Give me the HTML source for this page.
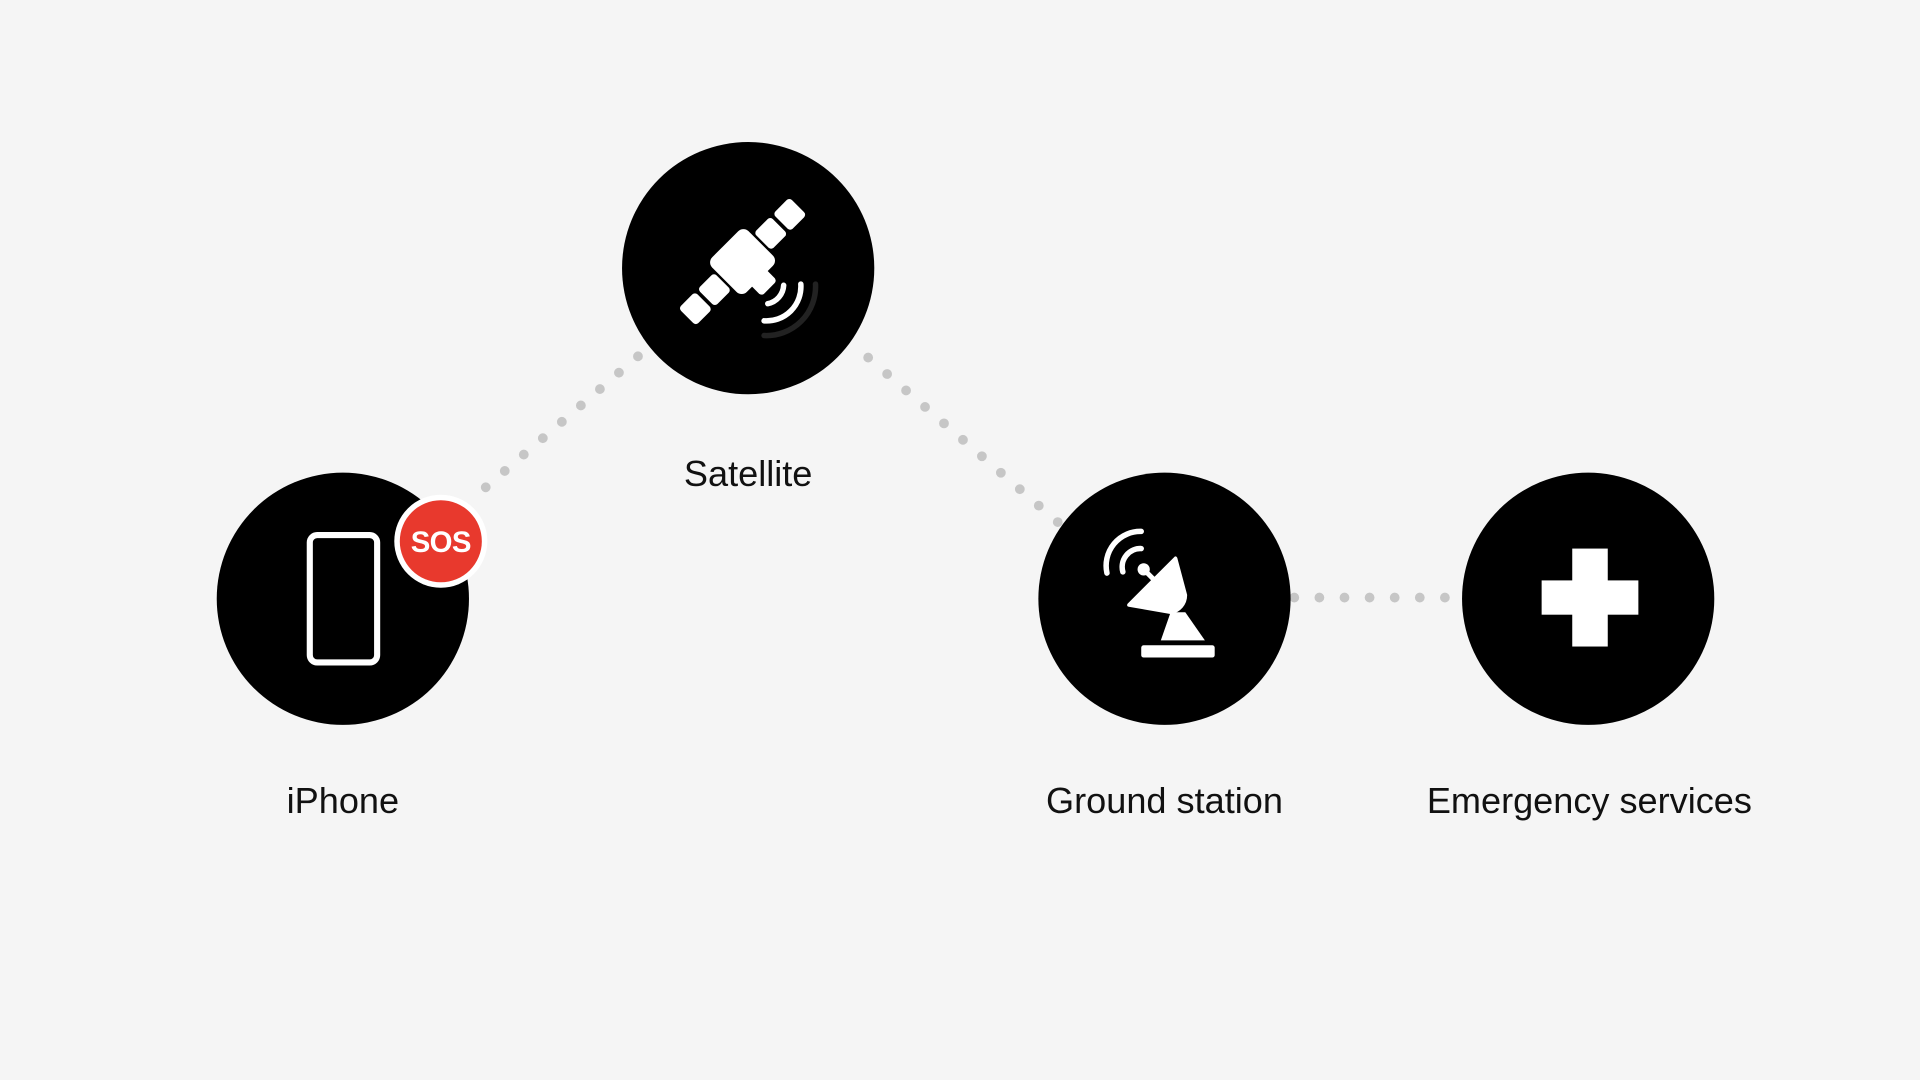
<!DOCTYPE html>
<html><head><meta charset="utf-8"><style>
html,body{margin:0;padding:0;background:#f5f5f5;width:1920px;height:1080px;overflow:hidden}
svg{display:block}
text{font-family:"Liberation Sans",sans-serif}
</style></head><body>
<svg width="1920" height="1080" viewBox="0 0 1568 882" xmlns="http://www.w3.org/2000/svg">
<rect width="1568" height="882" fill="#f5f5f5"/>
<g stroke="#c6c6c6" stroke-width="8" stroke-linecap="round" stroke-dasharray="0 20.5" fill="none">
<line x1="521" y1="291" x2="392" y2="402"/>
<line x1="709" y1="292" x2="868" y2="430"/>
<line x1="1057" y1="488" x2="1185" y2="488"/>
</g>
<circle cx="280" cy="489" r="103" fill="#000"/>
<circle cx="611" cy="219" r="103" fill="#000"/>
<circle cx="951" cy="489" r="103" fill="#000"/>
<circle cx="1297" cy="489" r="103" fill="#000"/>
<rect x="253" y="437" width="55" height="104" rx="6" fill="none" stroke="#fff" stroke-width="5"/>
<circle cx="360" cy="442" r="38" fill="#fff"/>
<circle cx="360" cy="442" r="33.5" fill="#e8392d"/>
<text x="360" y="451" text-anchor="middle" font-size="24" font-weight="bold" fill="#fff" letter-spacing="-0.5">SOS</text>
<g transform="rotate(-45 605 215)" fill="#fff">
<rect x="543" y="205" width="19" height="20" rx="3"/>
<rect x="565" y="205" width="19" height="20" rx="3"/>
<rect x="586" y="195" width="42" height="40" rx="6"/>
<rect x="630" y="205" width="19" height="20" rx="3"/>
<rect x="652" y="205" width="19" height="20" rx="3"/>
<rect x="598" y="232" width="18" height="14" rx="3"/>
</g>
<g fill="none" stroke="#fff" stroke-width="4.5" stroke-linecap="round">
<path d="M627 248 A16 16 0 0 0 640 233"/>
<path d="M624 262 A28 28 0 0 0 654 232"/>
</g>
<path d="M624 274 A40 40 0 0 0 666 232" fill="none" stroke="#222" stroke-width="4.5" stroke-linecap="round"/>
<g fill="#fff">
<rect x="932" y="527" width="60" height="10" rx="2"/>
<polygon points="956,500 968,500 984,523 948,523"/>
<path d="M922 494 L960 456 L968 486 A14 14 0 0 1 956 500 Z" stroke="#fff" stroke-width="3" stroke-linejoin="round"/>
<circle cx="934" cy="465" r="5"/>
<line x1="934" y1="465" x2="944" y2="475" stroke="#fff" stroke-width="4"/>
</g>
<g fill="none" stroke="#fff" stroke-width="4.5" stroke-linecap="round">
<path d="M917 467 A15 15 0 0 1 932 448"/>
<path d="M904 468 A28 28 0 0 1 932 434"/>
</g>
<rect x="1284" y="448" width="29" height="80" fill="#fff"/>
<rect x="1259" y="474" width="79" height="28" fill="#fff"/>
<g font-size="29.5" fill="#111" text-anchor="middle">
<text x="611" y="397">Satellite</text>
<text x="280" y="664">iPhone</text>
<text x="951" y="664">Ground station</text>
<text x="1298" y="664">Emergency services</text>
</g>
</svg>
</body></html>
